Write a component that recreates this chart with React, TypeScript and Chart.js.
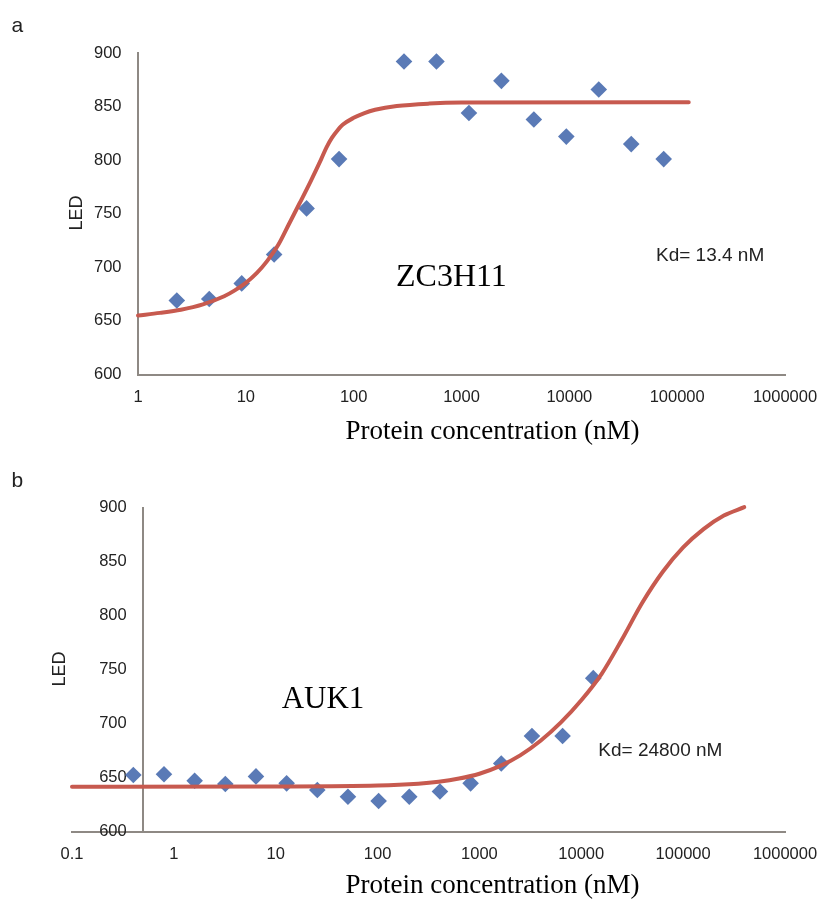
import React, { useEffect, useRef } from 'react';
import { Chart, registerables } from 'chart.js';

Chart.register(...registerables);

// ---------- Data: panel a (ZC3H11) ----------
const aConc = [2.29, 4.58, 9.16, 18.3, 36.6, 73.2, 293, 586, 1172, 2344, 4688, 9375, 18750, 37500, 75000];
const aLED = [669, 670.5, 685, 712, 755, 801, 892, 892, 844, 874, 838, 822, 866, 815, 801];
const aFitConc = [1, 1.6, 2.5, 4, 6.3, 7.9, 10, 12.6, 15.8, 20, 25, 31.6, 40, 50, 56, 63, 71, 79, 100, 126, 158, 251, 501, 1000, 128000];
const aFitLED = [655, 657.5, 660.5, 665.5, 673, 678.5, 685.5, 694.5, 706, 721, 740, 760, 780.5, 801, 812, 821, 828, 833, 839.5, 844, 847, 850.5, 852.8, 853.7, 854];
const aXTicks = [1, 10, 100, 1000, 10000, 100000, 1000000];

// ---------- Data: panel b (AUK1) ----------
const bConc = [0.4, 0.8, 1.6, 3.2, 6.4, 12.8, 25.6, 51.2, 102.4, 204.8, 409.6, 819.2, 1638, 3277, 6554, 13107];
const bLED = [652.3, 653, 647, 644, 651, 644.6, 638.4, 632.2, 628.2, 632.2, 637, 644.6, 663, 688.4, 688.4, 742];
const bFitConc = [0.1, 10, 100, 251, 398, 631, 1000, 1585, 2512, 3981, 6310, 10000, 15850, 25120, 39810, 63100, 100000, 158500, 251200, 398100];
const bFitLED = [641.5, 641.7, 642.5, 644.2, 646, 649, 653.5, 660.5, 670.5, 684, 701, 721.5, 746, 778, 812, 840.5, 863, 880, 892.5, 900.3];
const bXTicks = [0.1, 1, 10, 100, 1000, 10000, 100000, 1000000];

const yTicks = [600, 650, 700, 750, 800, 850, 900];

const xTitle = 'Protein concentration (nM)';
const yTitle = 'LED';

// ---------- Styles ----------
const BLUE = '#5a7ab6';
const RED = '#c75a4f';
const AXIS = '#8e8984';
const TICK = '#222222';
const SANS = '"Liberation Sans", Arial, sans-serif';
const SERIF = '"Liberation Serif", "Times New Roman", serif';

type TextItem = {
  text: string;
  x: number;
  y: number;
  font: string;
  align: CanvasTextAlign;
  rotate?: boolean;
  color?: string;
};

type Panel = {
  conc: number[];
  led: number[];
  fitConc: number[];
  fitLED: number[];
  xTicks: number[];
  xMin: number;
  yCross: number;
  padding: { left: number; right: number; top: number; bottom: number };
  texts: TextItem[];
};

const panelA: Panel = {
  conc: aConc,
  led: aLED,
  fitConc: aFitConc,
  fitLED: aFitLED,
  xTicks: aXTicks,
  xMin: 1,
  yCross: 1,
  padding: { left: 138, right: 35, top: 53, bottom: 35.5 },
  texts: [
    { text: 'a', x: 11.5, y: 32, font: `21px ${SANS}`, align: 'left' },
    { text: yTitle, x: 81.5, y: 213, font: `18px ${SANS}`, align: 'center', rotate: true },
    { text: xTitle, x: 492.5, y: 439.3, font: `27px ${SERIF}`, align: 'center', color: '#000' },
    { text: 'ZC3H11', x: 396, y: 286, font: `32px ${SERIF}`, align: 'left', color: '#000' },
    { text: 'Kd= 13.4 nM', x: 656, y: 260.7, font: `19px ${SANS}`, align: 'left' },
  ],
};

const panelB: Panel = {
  conc: bConc,
  led: bLED,
  fitConc: bFitConc,
  fitLED: bFitLED,
  xTicks: bXTicks,
  xMin: 0.1,
  yCross: 0.5,
  padding: { left: 72, right: 35, top: 57.5, bottom: 31.5 },
  texts: [
    { text: 'b', x: 11.5, y: 36.7, font: `21px ${SANS}`, align: 'left' },
    { text: yTitle, x: 65, y: 219, font: `18px ${SANS}`, align: 'center', rotate: true },
    { text: xTitle, x: 492.5, y: 442.5, font: `27px ${SERIF}`, align: 'center', color: '#000' },
    { text: 'AUK1', x: 281.7, y: 258.3, font: `31px ${SERIF}`, align: 'left', color: '#000' },
    { text: 'Kd= 24800 nM', x: 598.3, y: 305.7, font: `19px ${SANS}`, align: 'left' },
  ],
};

function textPlugin(items: TextItem[]) {
  return {
    id: 'panelTexts',
    afterDraw(chart: any) {
      const ctx: CanvasRenderingContext2D = chart.ctx;
      for (const t of items) {
        ctx.save();
        ctx.font = t.font;
        ctx.fillStyle = t.color || TICK;
        ctx.textAlign = t.align;
        ctx.textBaseline = 'alphabetic';
        ctx.translate(t.x, t.y);
        if (t.rotate) ctx.rotate(-Math.PI / 2);
        ctx.fillText(t.text, 0, 0);
        ctx.restore();
      }
    },
  };
}

function buildConfig(p: Panel): any {
  return {
    type: 'scatter',
    data: {
      datasets: [
        {
          type: 'line',
          label: 'fit',
          data: p.fitConc.map((x, i) => ({ x, y: p.fitLED[i] })),
          borderColor: RED,
          borderWidth: 4,
          pointRadius: 0,
          cubicInterpolationMode: 'monotone',
          fill: false,
          clip: false,
          borderCapStyle: 'round',
        },
        {
          type: 'scatter',
          label: 'data',
          data: p.conc.map((x, i) => ({ x, y: p.led[i] })),
          pointStyle: 'rectRot',
          pointRadius: 8.3,
          backgroundColor: BLUE,
          borderColor: BLUE,
          borderWidth: 0,
        },
      ],
    },
    options: {
      responsive: false,
      animation: false,
      devicePixelRatio: 1,
      layout: { padding: p.padding },
      plugins: {
        legend: { display: false },
        tooltip: { enabled: false },
        title: { display: false },
      },
      scales: {
        x: {
          type: 'logarithmic',
          position: 'bottom',
          min: p.xMin,
          max: 1000000,
          grid: { display: false, drawTicks: true, tickLength: 13, tickColor: 'rgba(0,0,0,0)' },
          border: { display: true, color: AXIS, width: 2 },
          ticks: {
            color: TICK,
            font: { family: SANS, size: 16.5 },
            padding: 0,
            maxRotation: 0,
            minRotation: 0,
            autoSkip: false,
            callback: (v: number) => String(v),
          },
          afterBuildTicks: (s: any) => {
            s.ticks = p.xTicks.map((v) => ({ value: v }));
          },
          afterFit: (s: any) => {
            s.height = 40;
          },
        },
        y: {
          type: 'linear',
          position: { x: p.yCross },
          min: 600,
          max: 900,
          grid: { display: false, drawTicks: false },
          border: { display: true, color: AXIS, width: 2 },
          ticks: {
            color: TICK,
            font: { family: SANS, size: 16.5 },
            padding: 0,
            callback: (v: number) => `${v}\u2002\u2002`,
          },
          afterBuildTicks: (s: any) => {
            s.ticks = yTicks.map((v) => ({ value: v }));
          },
        },
      },
    },
    plugins: [textPlugin(p.texts)],
  };
}

export default function App() {
  const topRef = useRef<HTMLCanvasElement>(null);
  const botRef = useRef<HTMLCanvasElement>(null);

  useEffect(() => {
    const c1 = new Chart(topRef.current as HTMLCanvasElement, buildConfig(panelA));
    const c2 = new Chart(botRef.current as HTMLCanvasElement, buildConfig(panelB));
    return () => {
      c1.destroy();
      c2.destroy();
    };
  }, []);

  return (
    <div style={{ position: 'absolute', left: 0, top: 0, width: 820, height: 903, background: '#ffffff' }}>
      <canvas ref={topRef} width={820} height={450} style={{ display: 'block' }} />
      <canvas ref={botRef} width={820} height={453} style={{ display: 'block' }} />
    </div>
  );
}
